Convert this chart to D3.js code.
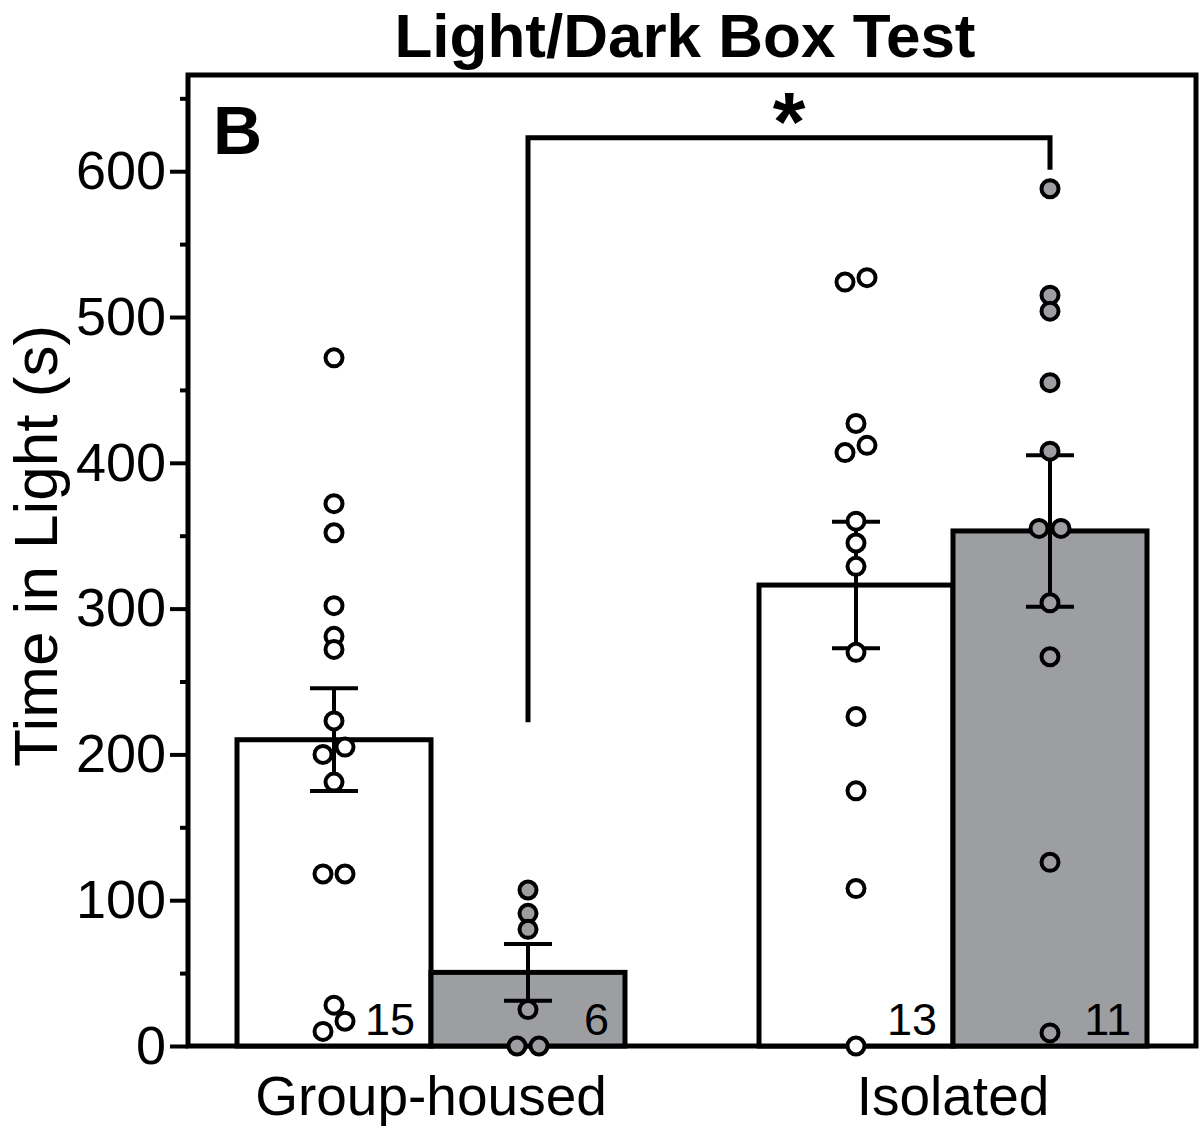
<!DOCTYPE html>
<html>
<head>
<meta charset="utf-8">
<script src="https://cdn.jsdelivr.net/npm/d3@7"></script>
<style>
  body { margin: 0; background: #fff; }
  svg { display: block; font-family: 'Liberation Sans', Arial, sans-serif; }
</style>
</head>
<body>
<div id="chart"></div>
<script>
// categories and series
const groups = ['Group-housed', 'Isolated'];
const series = ['open', 'filled'];

// individual animals, time in light (s)
const groupHousedOpen = [472, 372, 352, 302, 281, 272, 223, 205, 200, 181, 118, 118, 28, 17, 10];
const groupHousedFilled = [107, 91, 80, 25, 0, 0];
const isolatedOpen = [527, 524, 427, 412, 407, 360, 345, 329, 270, 226, 175, 108, 0];
const isolatedFilled = [588, 515, 504, 455, 408, 355, 355, 304, 267, 126, 9];

const majorTicks = [0, 100, 200, 300, 400, 500, 600];
const minorTicks = [50, 150, 250, 350, 450, 550, 650];

// significance bracket: from / to bar, heights in data units
const bracketFrom = ['Group-housed', 'filled'];
const bracketTo = ['Isolated', 'filled'];
const bracketLevels = { left: 222, top: 623, right: 601 };

const values = {
  'Group-housed': { open: groupHousedOpen, filled: groupHousedFilled },
  Isolated: { open: isolatedOpen, filled: isolatedFilled }
};

const fills = { open: '#ffffff', filled: '#9d9ea2' };

const width = 1200;
const height = 1126;
const frame = { left: 188, right: 1196 };

const svg = d3
  .select('#chart')
  .append('svg')
  .attr('width', width)
  .attr('height', height);

const y = d3.scaleLinear().domain([0, 666]).range([1046, 75]);
const x0 = d3.scalePoint().domain(groups).range([431, 953]);
const x1 = d3.scaleBand().domain(series).range([-194, 194]);

const barLeft = d => x0(d.group) + x1(d.key);
const barCenter = d => barLeft(d) + x1.bandwidth() / 2;

const rows = groups.flatMap(group =>
  series.map(key => {
    const v = values[group][key];
    const mean = d3.mean(v);
    const sem = d3.deviation(v) / Math.sqrt(v.length);
    return { group, key, values: v, mean, sem };
  })
);

// GraphPad-like scatter: close values are spread left/right
const spread = 11;
const closeness = 12;
function swarm(v) {
  const order = v.map((value, i) => ({ value, i })).sort((a, b) => b.value - a.value);
  const offsets = new Array(v.length).fill(0);
  let cluster = [];
  const flush = () => {
    if (cluster.length > 1) {
      cluster.forEach((p, j) => (offsets[p.i] = j % 2 === 0 ? spread : -spread));
    }
    cluster = [];
  };
  order.forEach((p, k) => {
    if (k > 0 && y(p.value) - y(order[k - 1].value) >= closeness) flush();
    cluster.push(p);
  });
  flush();
  return offsets;
}

// title and panel letter
svg
  .append('text')
  .attr('x', 685)
  .attr('y', 57)
  .attr('text-anchor', 'middle')
  .attr('font-size', 62)
  .attr('font-weight', 'bold')
  .text('Light/Dark Box Test');

svg
  .append('text')
  .attr('x', 213)
  .attr('y', 154)
  .attr('font-size', 68)
  .attr('font-weight', 'bold')
  .text('B');

// y axis
const styleAxis = g => {
  g.select('.domain').remove();
  g.selectAll('.tick line').attr('stroke', '#000').attr('stroke-width', 4);
  g.selectAll('.tick text')
    .attr('fill', '#000')
    .attr('font-size', 54)
    .attr('font-family', 'Liberation Sans, Arial, sans-serif');
};

svg
  .append('g')
  .attr('transform', `translate(${frame.left}, 0)`)
  .call(d3.axisLeft(y).tickValues(majorTicks).tickSize(18).tickPadding(4))
  .call(styleAxis);

svg
  .append('g')
  .attr('transform', `translate(${frame.left}, 0)`)
  .call(d3.axisLeft(y).tickValues(minorTicks).tickSize(8).tickFormat(''))
  .call(styleAxis);

svg
  .append('text')
  .attr('transform', 'rotate(-90)')
  .attr('x', -546)
  .attr('y', 57)
  .attr('text-anchor', 'middle')
  .attr('font-size', 62)
  .text('Time in Light (s)');

// x labels
svg
  .append('g')
  .selectAll('text')
  .data(groups)
  .join('text')
  .attr('x', d => x0(d))
  .attr('y', y(0) + 69)
  .attr('text-anchor', 'middle')
  .attr('font-size', 55)
  .text(d => d);

// frame
svg
  .append('rect')
  .attr('x', frame.left)
  .attr('y', y.range()[1])
  .attr('width', frame.right - frame.left)
  .attr('height', y.range()[0] - y.range()[1])
  .attr('fill', 'none')
  .attr('stroke', '#000')
  .attr('stroke-width', 5);

// bars
svg
  .append('g')
  .selectAll('rect')
  .data(rows)
  .join('rect')
  .attr('x', barLeft)
  .attr('width', x1.bandwidth())
  .attr('y', d => y(d.mean))
  .attr('height', d => y(0) - y(d.mean))
  .attr('fill', d => fills[d.key])
  .attr('stroke', '#000')
  .attr('stroke-width', 5);

// n labels
svg
  .append('g')
  .selectAll('text')
  .data(rows)
  .join('text')
  .attr('x', d => barLeft(d) + x1.bandwidth() - 16)
  .attr('y', y(0) - 11)
  .attr('text-anchor', 'end')
  .attr('font-size', 45)
  .text(d => d.values.length);

// error bars (mean ± SEM)
const err = svg
  .append('g')
  .attr('stroke', '#000')
  .attr('stroke-width', 4)
  .selectAll('g')
  .data(rows)
  .join('g');

err
  .append('line')
  .attr('x1', barCenter)
  .attr('x2', barCenter)
  .attr('y1', d => y(d.mean - d.sem))
  .attr('y2', d => y(d.mean + d.sem));

err
  .selectAll('line.cap')
  .data(d => [d.mean - d.sem, d.mean + d.sem].map(v => ({ v, c: barCenter(d) })))
  .join('line')
  .attr('class', 'cap')
  .attr('x1', d => d.c - 24)
  .attr('x2', d => d.c + 24)
  .attr('y1', d => y(d.v))
  .attr('y2', d => y(d.v));

// bracket
const bx1 = barCenter({ group: bracketFrom[0], key: bracketFrom[1] });
const bx2 = barCenter({ group: bracketTo[0], key: bracketTo[1] });

svg
  .append('path')
  .attr(
    'd',
    d3.line()([
      [bx1, y(bracketLevels.left)],
      [bx1, y(bracketLevels.top)],
      [bx2, y(bracketLevels.top)],
      [bx2, y(bracketLevels.right)]
    ])
  )
  .attr('fill', 'none')
  .attr('stroke', '#000')
  .attr('stroke-width', 5);

svg
  .append('text')
  .attr('x', (bx1 + bx2) / 2)
  .attr('y', y(bracketLevels.top) + 13)
  .attr('text-anchor', 'middle')
  .attr('font-size', 84)
  .attr('font-weight', 'bold')
  .text('*');

// individual points
rows.forEach(row => {
  const offsets = swarm(row.values);
  svg
    .append('g')
    .selectAll('circle')
    .data(row.values)
    .join('circle')
    .attr('cx', (d, i) => barCenter(row) + offsets[i])
    .attr('cy', d => y(d))
    .attr('r', 8.5)
    .attr('fill', fills[row.key])
    .attr('stroke', '#000')
    .attr('stroke-width', 4);
});
</script>
</body>
</html>
